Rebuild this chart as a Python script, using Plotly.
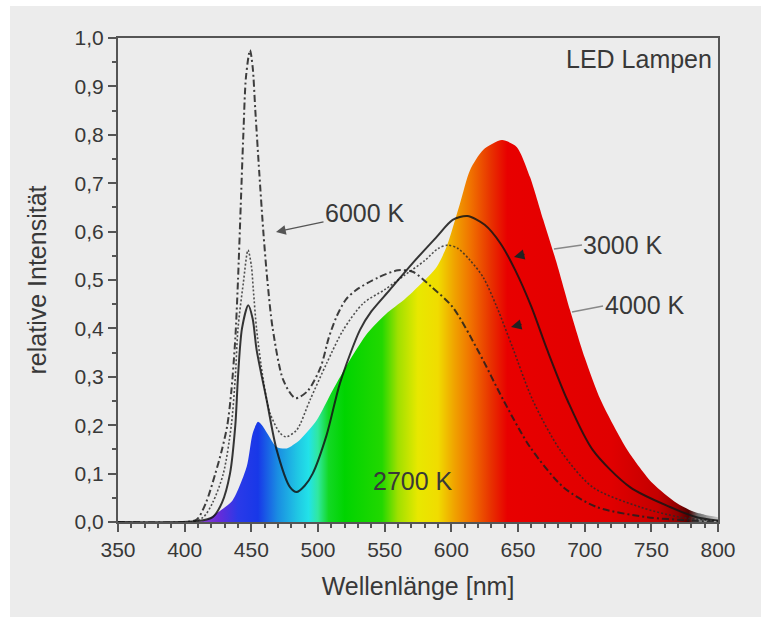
import plotly.graph_objects as go

# ---------------- data ----------------
wl_2700 = [350, 410, 417, 425, 436, 446.5, 451, 455, 458, 462, 469, 476.5, 486.5, 499, 511, 524, 537,
           551, 565, 576.5, 589, 596.5, 606.5, 614, 624, 638, 649, 659, 669, 679, 689, 700, 712,
           732, 751, 769, 781, 790, 800]
i_2700 = [0, 0, 0.005, 0.02, 0.045, 0.114, 0.183, 0.207, 0.2, 0.183, 0.155, 0.152, 0.17, 0.21, 0.272,
          0.335, 0.39, 0.43, 0.46, 0.49, 0.527, 0.569, 0.658, 0.727, 0.769, 0.789, 0.775, 0.713,
          0.624, 0.535, 0.438, 0.34, 0.252, 0.149, 0.08, 0.039, 0.022, 0.015, 0.01]

wl_3000 = [350, 410, 421, 428, 434, 438, 440, 443, 447.7, 451, 454, 461.5, 469, 479, 484, 490, 496,
           506.5, 516.5, 531.5, 540, 554, 571, 589, 601, 612, 625, 637, 648, 660, 672, 687, 706, 734,
           764, 784, 800]
i_3000 = [0, 0.002, 0.01, 0.04, 0.1, 0.2, 0.3, 0.4, 0.448, 0.42, 0.355, 0.252, 0.149, 0.072, 0.062,
          0.075, 0.10, 0.18, 0.287, 0.397, 0.435, 0.48, 0.535, 0.589, 0.624, 0.632, 0.614, 0.575, 0.52,
          0.445, 0.355, 0.252, 0.149, 0.072, 0.031, 0.01, 0.003]

wl_4000 = [350, 405, 414, 421, 429, 435, 438, 440, 444, 447.5, 450, 451.5, 454, 459, 464, 471.5, 476,
           484, 494, 506.5, 519, 534, 550, 565, 580, 590, 597.5, 605, 614, 624, 634, 646, 661,
           681.5, 706, 741.5, 771.5, 800]
i_4000 = [0, 0, 0.01, 0.04, 0.1, 0.2, 0.3, 0.4, 0.494, 0.562, 0.53, 0.48, 0.397, 0.293, 0.225, 0.184,
          0.176, 0.19, 0.252, 0.328, 0.397, 0.452, 0.48, 0.51, 0.54, 0.565, 0.572, 0.565, 0.541, 0.505,
          0.445, 0.36, 0.252, 0.149, 0.072, 0.031, 0.01, 0.002]

wl_6000 = [350, 400, 409, 416, 423, 428, 432, 435, 438, 440, 442, 444, 446, 449, 451, 453, 456, 459,
           462, 466, 474, 483, 492, 502, 508, 514, 521, 529, 545, 560, 571, 585, 601, 621, 639, 659, 684,
           709, 747, 780, 800]
i_6000 = [0, 0, 0.005, 0.04, 0.1, 0.15, 0.2, 0.27, 0.38, 0.5, 0.65, 0.8, 0.92, 0.975, 0.94, 0.85, 0.72,
          0.6, 0.5, 0.4, 0.293, 0.256, 0.27, 0.32, 0.38, 0.425, 0.46, 0.48, 0.505, 0.52, 0.517, 0.486,
          0.444, 0.349, 0.252, 0.155, 0.072, 0.031, 0.01, 0.003, 0]

x_tickvals = [350, 400, 450, 500, 550, 600, 650, 700, 750, 800]
x_ticktext = ["350", "400", "450", "500", "550", "600", "650", "700", "750", "800"]
y_tickvals = [0.0, 0.1, 0.2, 0.3, 0.4, 0.5, 0.6, 0.7, 0.8, 0.9, 1.0]
y_ticktext = ["0,0", "0,1", "0,2", "0,3", "0,4", "0,5", "0,6", "0,7", "0,8", "0,9", "1,0"]

# spectral colours (wavelength nm -> colour) for the 2700 K gradient fill
spec_nm = [410, 425, 440, 455, 470, 485, 493, 500, 508, 520, 548, 560, 575, 590, 602, 615, 630, 642,
           720, 755, 770, 778, 785, 800]
spec_col = ["#8a4cc8", "#6a2ad8", "#2a3ae8", "#1838e8", "#1a8ee2", "#20c8e4", "#22e2e8", "#30e8a0",
            "#12d824", "#00d400", "#22d800", "#a0e000", "#e8e800", "#f0dc00", "#f0a400", "#f07000",
            "#e83000", "#e80000", "#e00000", "#c40000", "#900000", "#500000", "#707070", "#c8c8c8"]

FONT = "Liberation Sans, Arial, sans-serif"
TXT = "#383838"

# ---------------- figure ----------------
L, R, T, B = 118, 43, 38, 95
W, H = 761, 617
PW, PH = W - L - R, H - T - B


def px2data(px, py):
    return 350 + (px - L) * 450 / PW, ((T + PH) - py) / PH


lo, hi = spec_nm[0], spec_nm[-1]
cscale = [[(n - lo) / (hi - lo), c] for n, c in zip(spec_nm, spec_col)]

fig = go.Figure()
fig.add_trace(go.Scatter(
    x=wl_2700, y=i_2700, name="2700 K", mode="lines", line=dict(width=0, shape="spline", smoothing=0.7),
    fill="tozeroy",
    fillgradient=dict(type="horizontal", colorscale=cscale, start=lo, stop=hi),
    hoverinfo="skip"))
fig.add_trace(go.Scatter(
    x=wl_6000, y=i_6000, name="6000 K", mode="lines",
    line=dict(color="rgba(30,30,30,0.85)", width=2, dash="7px,3px,2px,3px", shape="spline", smoothing=0.8)))
fig.add_trace(go.Scatter(
    x=wl_4000, y=i_4000, name="4000 K", mode="lines",
    line=dict(color="rgba(40,40,40,0.8)", width=1.6, dash="2px,2px", shape="spline", smoothing=0.8)))
fig.add_trace(go.Scatter(
    x=wl_3000, y=i_3000, name="3000 K", mode="lines",
    line=dict(color="rgba(20,20,20,0.85)", width=2, shape="spline", smoothing=0.8)))

annotations = []
shapes = []

# white strips at top and left of the picture
shapes.append(dict(type="rect", xref="paper", yref="paper", layer="below",
                   x0=-L / PW - 0.01, x1=(10 - L) / PW, y0=-B / PH - 0.01, y1=(T + PH) / PH + 0.01,
                   fillcolor="white", line=dict(width=0)))
shapes.append(dict(type="rect", xref="paper", yref="paper", layer="below",
                   x0=-L / PW - 0.01, x1=(W - L) / PW + 0.01, y0=(PH + T - 6) / PH, y1=(T + PH) / PH + 0.01,
                   fillcolor="white", line=dict(width=0)))

# LED Lampen
annotations.append(dict(text="LED Lampen", xref="paper", yref="paper", x=(714 - L) / PW,
                        y=(T + PH - 59) / PH, xanchor="right", yanchor="middle", showarrow=False,
                        font=dict(family=FONT, size=25, color=TXT)))

# 6000 K with arrow
tx, ty = px2data(276, 232)
annotations.append(dict(text="6000 K", x=tx, y=ty, ax=365 - 276, ay=213 - 232, showarrow=True,
                        arrowhead=2, arrowsize=1.5, arrowwidth=1.3, arrowcolor="#555", standoff=0,
                        font=dict(family=FONT, size=25, color=TXT)))

# 3000 K / 4000 K labels with leader lines hidden under the fill and arrowheads on top
for lab, cx, cy, l0, l1, tip in [("3000 K", 623, 245, (582, 245), (554, 249), (514, 257)),
                                 ("4000 K", 645, 305, (603, 306), (572, 312), (511, 327))]:
    x, y = px2data(cx, cy)
    annotations.append(dict(text=lab, x=x, y=y, showarrow=False, xanchor="center", yanchor="middle",
                            font=dict(family=FONT, size=25, color=TXT)))
    x0, y0 = px2data(*l0)
    x1, y1 = px2data(*l1)
    shapes.append(dict(type="line", xref="x", yref="y", x0=x0, y0=y0, x1=x1, y1=y1,
                       line=dict(color="#888", width=1.5)))
    txp, typ = px2data(*tip)
    annotations.append(dict(text="", x=txp, y=typ, ax=12, ay=-3, showarrow=True, arrowhead=2,
                            arrowsize=1.6, arrowwidth=1.3, arrowcolor="#222", standoff=0))

# 2700 K
x, y = px2data(413, 481)
annotations.append(dict(text="2700 K", x=x, y=y, showarrow=False,
                        font=dict(family=FONT, size=25, color=TXT)))

axis_common = dict(showline=True, linecolor="#555", linewidth=2, mirror=True, showgrid=False,
                   zeroline=False, ticks="outside", ticklen=8, tickwidth=2, tickcolor="#555",
                   tickfont=dict(family=FONT, size=21, color=TXT))

fig.update_xaxes(range=[350, 800], tickvals=x_tickvals, ticktext=x_ticktext,
                 minor=dict(ticks="outside", ticklen=4, dtick=10, tick0=350, tickcolor="#555", tickwidth=1.5),
                 title=dict(text="Wellenlänge [nm]", font=dict(family=FONT, size=25, color=TXT), standoff=17),
                 **axis_common)
fig.update_yaxes(range=[0, 1.0], tickvals=y_tickvals, ticktext=y_ticktext,
                 minor=dict(ticks="outside", ticklen=4, dtick=0.05, tick0=0, tickcolor="#555", tickwidth=1.5),
                 title=dict(text="relative Intensität", font=dict(family=FONT, size=25, color=TXT), standoff=21),
                 **axis_common)

fig.update_layout(width=W, height=H, margin=dict(l=L, r=R, t=T, b=B, autoexpand=False),
                  paper_bgcolor="#ececec", plot_bgcolor="#ececec", showlegend=False,
                  annotations=annotations, shapes=shapes, font=dict(family=FONT, color=TXT))

fig.write_html("out.html", config={"displayModeBar": False},
               post_script="document.body.style.margin='0';document.body.style.overflow='hidden';")
